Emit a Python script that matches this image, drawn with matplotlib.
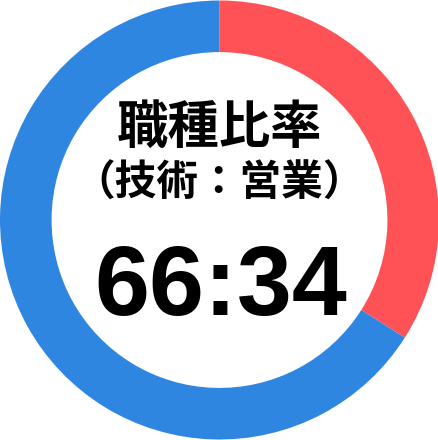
import matplotlib
matplotlib.use("Agg")
import matplotlib.pyplot as plt

# --- data ---
labels = ["営業", "技術"]
values = [34, 66]
colors = ["#FF5257", "#2F86E1"]

title_text = "職種比率"
sub_text = "（技術：営業）"
ratio_text = f"{values[1]}:{values[0]}"

fig = plt.figure(figsize=(4.39, 4.40), dpi=100)
ax = fig.add_axes([0, 0, 1, 1])

ax.pie(values, colors=colors, startangle=90, counterclock=False,
       radius=1.0, wedgeprops=dict(width=0.235, edgecolor="none"))
ax.set_xlim(-1.0, 1.0)
ax.set_ylim(-1.0, 1.0)
ax.set_aspect("equal")
ax.axis("off")

jp = ["Noto Sans CJK JP", "DejaVu Sans"]
ax.text(0, 0.42, title_text, ha="center", va="center", fontsize=37,
        family=jp, fontweight="bold")
ax.text(0, 0.165, sub_text, ha="center", va="center", fontsize=30,
        family=jp, fontweight="bold")
ax.text(0.005, -0.432, ratio_text, ha="center", va="baseline", fontsize=71,
        family=["Liberation Sans", "DejaVu Sans"], fontweight="bold")

fig.savefig("out.png", dpi=100)
plt.close(fig)
